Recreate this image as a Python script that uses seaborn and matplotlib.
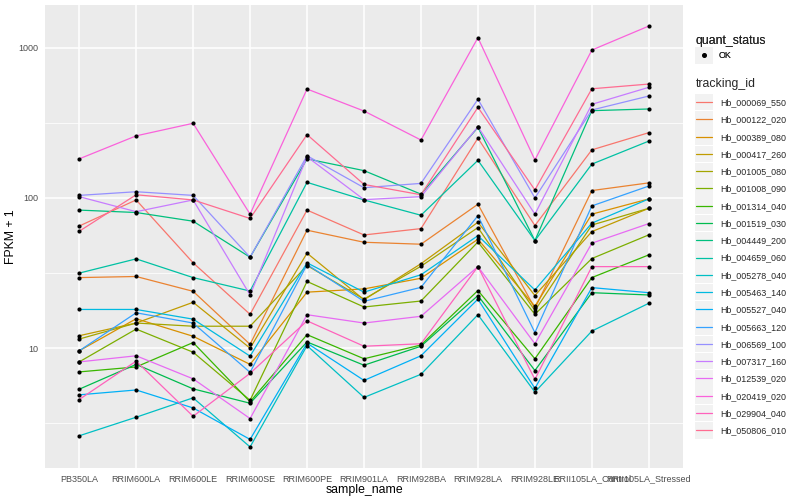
import pandas as pd
import seaborn as sns
import matplotlib.pyplot as plt
from matplotlib.lines import Line2D
from matplotlib.patches import Rectangle
from matplotlib.legend_handler import HandlerLine2D
from matplotlib.ticker import FixedLocator, NullFormatter

#dane (FPKM + 1)
samples = ['PB350LA', 'RRIM600LA', 'RRIM600LE', 'RRIM600SE', 'RRIM600PE', 'RRIM901LA',
           'RRIM928BA', 'RRIM928LA', 'RRIM928LE', 'RRII105LA_Control', 'RRII105LA_Stressed']

tracking_ids = ['Hb_000069_550', 'Hb_000122_020', 'Hb_000389_080', 'Hb_000417_260',
                'Hb_001005_080', 'Hb_001008_090', 'Hb_001314_040', 'Hb_001519_030',
                'Hb_004449_200', 'Hb_004659_060', 'Hb_005278_040', 'Hb_005463_140',
                'Hb_005527_040', 'Hb_005663_120', 'Hb_006569_100', 'Hb_007317_160',
                'Hb_012539_020', 'Hb_020419_020', 'Hb_029904_040', 'Hb_050806_010']

hb_000069_550 = [65, 97, 37, 16.8, 83, 56.7, 62.5, 250, 65.5, 209, 272]
hb_000122_020 = [29.5, 30.0, 23.9, 10.6, 61, 50.7, 49.2, 90.8, 18.4, 112, 126]
hb_000389_080 = [9.6, 15.7, 12.0, 7.8, 23.6, 24.8, 29.2, 53.1, 19.0, 78, 98.5]
hb_000417_260 = [12.1, 14.7, 20.2, 10.0, 42.9, 21.0, 36.5, 68.9, 22.4, 59.7, 85.3]
hb_001005_080 = [11.5, 14.7, 14.0, 14.0, 35.5, 21.2, 35.1, 63.5, 17.8, 66, 85.3]
hb_001008_090 = [8.1, 13.4, 9.4, 4.5, 27.8, 18.8, 20.6, 50.9, 16.8, 39.5, 56.8]
hb_001314_040 = [6.95, 7.5, 10.9, 4.4, 12.3, 8.5, 10.5, 24.2, 8.5, 29.5, 41.8]
hb_001519_030 = [5.33, 7.8, 5.36, 4.3, 11.0, 7.7, 10.3, 22.4, 7.1, 23.4, 22.6]
hb_004449_200 = [83, 80, 70, 40.3, 182, 152, 106, 295, 52, 381, 391]
hb_004659_060 = [31.6, 39.3, 29.5, 24, 127, 97, 76.7, 178, 52, 168, 239]
hb_005278_040 = [2.61, 3.47, 4.67, 2.2, 10.4, 4.7, 6.7, 16.7, 5.1, 13.0, 19.9]
hb_005463_140 = [18.1, 18.1, 15.6, 8.85, 37.0, 23.6, 30.8, 56.1, 24.4, 68, 98.5]
hb_005527_040 = [4.89, 5.27, 4.0, 2.47, 10.8, 6.1, 8.9, 21.2, 5.4, 25.3, 23.4]
hb_005663_120 = [9.6, 17.2, 14.7, 6.9, 36.0, 20.5, 25.4, 76.2, 12.7, 88.5, 120]
hb_006569_100 = [104, 110, 104, 40.3, 191, 117, 125, 454, 100, 385, 477]
hb_007317_160 = [102, 81, 97, 22.6, 188, 97.4, 102, 298, 78, 420, 545]
hb_012539_020 = [8.1, 8.9, 6.25, 3.4, 16.7, 14.7, 16.3, 34.9, 10.7, 50, 67.5]
hb_020419_020 = [182, 259, 314, 78, 531, 379, 243, 1166, 179, 965, 1394]
hb_029904_040 = [4.55, 8.2, 3.52, 6.8, 15.2, 10.3, 10.7, 34.9, 6.2, 34.9, 34.9]
hb_050806_010 = [60, 105, 97, 73, 264, 123, 105, 401, 113, 533, 573]

series = [hb_000069_550, hb_000122_020, hb_000389_080, hb_000417_260, hb_001005_080,
          hb_001008_090, hb_001314_040, hb_001519_030, hb_004449_200, hb_004659_060,
          hb_005278_040, hb_005463_140, hb_005527_040, hb_005663_120, hb_006569_100,
          hb_007317_160, hb_012539_020, hb_020419_020, hb_029904_040, hb_050806_010]

#paleta jak w ggplot (hue_pal dla 20 poziomow)
palette = ["#F8766D", "#EA8331", "#D89000", "#C09B00", "#A3A500", "#7CAE00", "#39B600",
           "#00BB4E", "#00BF7D", "#00C1A3", "#00BFC4", "#00BAE0", "#00B0F6", "#35A2FF",
           "#9590FF", "#C77CFF", "#E76BF3", "#FA62DB", "#FF62BC", "#FF6C91"]

#----------------------------------------------------
#tabela w formacie dlugim
rows = []
for tid, vals in zip(tracking_ids, series):
    for s, v in zip(samples, vals):
        rows.append({'tracking_id': tid, 'sample_name': s, 'fpkm': v, 'quant_status': 'OK'})
data = pd.DataFrame(rows)


#szare tlo pod kluczami legendy, jak w ggplot
class KeyHandler(HandlerLine2D):
    def create_artists(self, legend, orig_handle, xdescent, ydescent, width, height,
                       fontsize, trans):
        arts = super().create_artists(legend, orig_handle, xdescent, ydescent, width,
                                      height, fontsize, trans)
        cy = -ydescent + height / 2
        bg = Rectangle((-xdescent - 1, cy - 6), width + 2, 12, facecolor='#F2F2F2',
                       edgecolor='none', transform=trans, zorder=0)
        return [bg] + list(arts)


#----------------------------------------------------
#ustawienia wizualizacji
sns.set_theme(style="darkgrid", rc={
    "axes.facecolor": "#EBEBEB",
    "grid.color": "white",
    "axes.edgecolor": "#EBEBEB",
})
plt.rcParams['font.family'] = ['Liberation Sans', 'DejaVu Sans']

fig = plt.figure(figsize=(8, 5), dpi=100)
ax = fig.add_axes([45 / 800, 32 / 500, 638 / 800, 463 / 500])

sns.lineplot(data=data, x='sample_name', y='fpkm', hue='tracking_id', palette=palette,
             hue_order=tracking_ids, sort=False, estimator=None, linewidth=0.9,
             legend=False, ax=ax)
sns.scatterplot(data=data, x='sample_name', y='fpkm', color='black', s=9, linewidth=0,
                legend=False, ax=ax, zorder=3)

ax.set_yscale('log')
ax.margins(y=0.05)
ax.set_xlim(-0.6, len(samples) - 0.4)

ax.yaxis.set_major_locator(FixedLocator([10, 100, 1000]))
ax.set_yticklabels(['10', '100', '1000'])
ax.yaxis.set_minor_locator(FixedLocator([10 ** 0.5, 10 ** 1.5, 10 ** 2.5]))
ax.yaxis.set_minor_formatter(NullFormatter())
ax.grid(which='major', color='white', linewidth=1.1)
ax.grid(which='minor', color='white', linewidth=0.55)
ax.tick_params(axis='both', which='major', length=2.7, width=0.8, color='#333333',
               labelsize=6.5, labelcolor='#4D4D4D', pad=2)
ax.tick_params(axis='y', which='minor', length=0)
for sp in ax.spines.values():
    sp.set_visible(False)

ax.set_xlabel('sample_name', fontsize=8.8, color='black')
ax.set_ylabel('FPKM + 1', fontsize=8.8, color='black')
ax.xaxis.set_label_coords(0.5, -0.034)
ax.yaxis.set_label_coords(-0.044, 0.5)

#----------------------------------------------------
#legendy
h1 = [Line2D([], [], marker='o', color='black', markersize=2.6, linestyle='none')]
leg1 = fig.legend(h1, ['OK'], title='quant_status', loc='upper left',
                  bbox_to_anchor=(688 / 800, 1 - 27 / 500), frameon=False,
                  fontsize=6.4, title_fontsize=8.8, handlelength=1.8, handletextpad=0.8,
                  handler_map={Line2D: KeyHandler()})
leg1._legend_box.align = 'left'

h2 = [Line2D([], [], color=c, linewidth=0.9) for c in palette]
leg2 = fig.legend(h2, tracking_ids, title='tracking_id', loc='upper left',
                  bbox_to_anchor=(688 / 800, 1 - 70 / 500), frameon=False,
                  fontsize=6.4, title_fontsize=8.8, handlelength=1.8, handletextpad=0.9,
                  labelspacing=0.93, handler_map={Line2D: KeyHandler()})
leg2._legend_box.align = 'left'
fig.add_artist(leg1)

plt.savefig('out.png', dpi=100)
plt.close()
